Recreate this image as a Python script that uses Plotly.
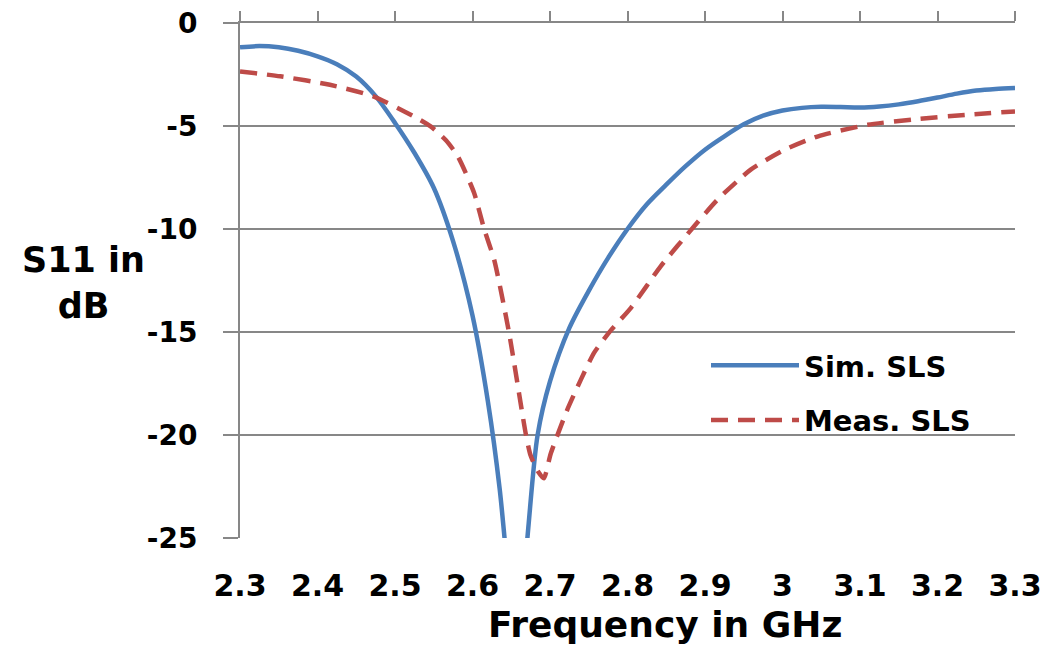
import plotly.graph_objects as go

# Simulated S11 (GHz, dB)
sim_f = [2.300, 2.325, 2.350, 2.375, 2.400, 2.425, 2.450, 2.475, 2.500, 2.525, 2.550, 2.575,
         2.600, 2.620, 2.635, 2.645, 2.656, 2.665, 2.672, 2.684, 2.700, 2.725, 2.750, 2.775,
         2.800, 2.825, 2.850, 2.875, 2.900, 2.925, 2.950, 2.975, 3.000, 3.025, 3.050, 3.075,
         3.100, 3.125, 3.150, 3.175, 3.200, 3.225, 3.250, 3.275, 3.300]
sim_db = [-1.18, -1.12, -1.18, -1.35, -1.62, -2.00, -2.60, -3.55, -4.85, -6.30, -8.00, -10.6,
          -14.2, -18.4, -22.6, -26.5, -31.0, -27.5, -24.5, -20.0, -17.4, -14.8, -13.0, -11.4,
          -10.0, -8.80, -7.85, -6.95, -6.15, -5.50, -4.92, -4.50, -4.25, -4.12, -4.07, -4.08,
          -4.10, -4.05, -3.95, -3.80, -3.62, -3.43, -3.28, -3.20, -3.16]

# Measured S11 (GHz, dB)
meas_f = [2.300, 2.352, 2.416, 2.472, 2.524, 2.546, 2.566, 2.581, 2.602, 2.615, 2.628, 2.647,
          2.669, 2.675, 2.685, 2.692, 2.701, 2.722, 2.740, 2.757, 2.779, 2.805, 2.843,
          2.886, 2.916, 2.959, 3.003, 3.046, 3.110, 3.175, 3.240, 3.300]
meas_db = [-2.35, -2.59, -3.00, -3.56, -4.53, -5.02, -5.70, -6.47, -8.24, -10.0, -11.5, -15.0,
           -20.0, -21.0, -21.8, -22.1, -20.9, -18.8, -17.3, -16.0, -14.9, -13.8, -11.8,
           -9.87, -8.58, -7.12, -6.15, -5.50, -4.94, -4.66, -4.45, -4.29]

x_ticks = [2.3, 2.4, 2.5, 2.6, 2.7, 2.8, 2.9, 3.0, 3.1, 3.2, 3.3]
x_tick_text = ["2.3", "2.4", "2.5", "2.6", "2.7", "2.8", "2.9", "3", "3.1", "3.2", "3.3"]
y_ticks = [0, -5, -10, -15, -20, -25]
y_tick_text = ["0", "-5", "-10", "-15", "-20", "-25"]

FONT = "DejaVu Sans"
GRID = "#878787"

W, H = 1047, 649
ML, MR, MT, MB = 240, 32, 23, 111
PW, PH = W - ML - MR, H - MT - MB

fig = go.Figure()
fig.add_trace(go.Scatter(x=sim_f, y=sim_db, mode="lines", name="Sim. SLS",
                         line=dict(color="#4A7EBB", width=4.5, shape="spline", smoothing=0.8),
                         legendgroup="a"))
fig.add_trace(go.Scatter(x=meas_f, y=meas_db, mode="lines", name="Meas. SLS",
                         line=dict(color="#BE4B48", width=4.5, dash="17px,10px", shape="spline", smoothing=0.6),
                         legendgroup="b"))
# invisible trace for top axis
fig.add_trace(go.Scatter(x=[2.3, 3.3], y=[0, 0], xaxis="x2", mode="lines",
                         line=dict(width=0), showlegend=False, hoverinfo="skip"))

fig.update_layout(
    width=W, height=H,
    margin=dict(l=ML, r=MR, t=MT, b=MB, autoexpand=False),
    paper_bgcolor="white", plot_bgcolor="white",
    font=dict(family=FONT, color="black"),
    xaxis=dict(range=[2.3, 3.3], tickvals=x_ticks, ticktext=x_tick_text,
               showgrid=False, zeroline=False, showline=False, ticks="",
               ticklabelstandoff=27,
               tickfont=dict(size=30, family=FONT, weight="bold")),
    xaxis2=dict(range=[2.3, 3.3], overlaying="x", side="top", tickvals=x_ticks,
                showticklabels=False, ticks="outside", ticklen=10, tickwidth=2, tickcolor=GRID,
                showline=True, linecolor=GRID, linewidth=2, showgrid=False, zeroline=False),
    yaxis=dict(range=[-25, 0], tickvals=y_ticks, ticktext=y_tick_text,
               showgrid=True, gridcolor=GRID, gridwidth=2,
               zeroline=False, showline=True, linecolor=GRID, linewidth=2,
               ticks="outside", ticklen=15, tickwidth=2, tickcolor=GRID,
               ticklabelstandoff=20,
               tickfont=dict(size=28, family=FONT, weight="bold")),
    legend=dict(x=(706 - ML) / PW, y=(H - MB - 340) / PH,
                xanchor="left", yanchor="top", bgcolor="rgba(0,0,0,0)",
                font=dict(size=29, family=FONT, weight="bold"), itemwidth=88,
                tracegroupgap=14),
    showlegend=True,
    annotations=[
        dict(text="S11 in<br>dB",
             x=(83 - ML) / PW, y=(H - MB - 283) / PH,
             xref="paper", yref="paper", xanchor="center", yanchor="middle",
             showarrow=False, font=dict(size=35, family=FONT, weight="bold"),
             align="center"),
        dict(text="Frequency in GHz",
             x=(665 - ML) / PW, y=(H - MB - 624) / PH,
             xref="paper", yref="paper", xanchor="center", yanchor="middle",
             showarrow=False, font=dict(size=36, family=FONT, weight="bold")),
    ],
)

fig.write_html("out.html", config={"displayModeBar": False},
               post_script="document.body.style.margin='0px';")
